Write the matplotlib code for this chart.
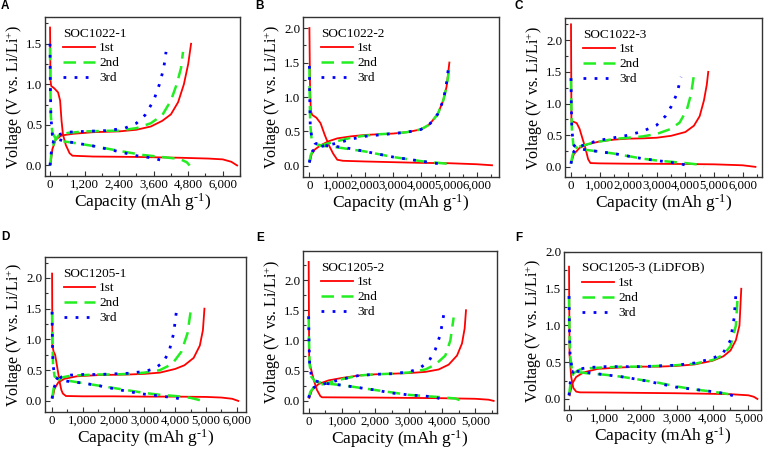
import numpy as np
import matplotlib.pyplot as plt
from matplotlib.ticker import FuncFormatter, MultipleLocator, AutoMinorLocator
from matplotlib.lines import Line2D

plt.rcParams['font.family'] = ['Liberation Serif', 'DejaVu Serif']
plt.rcParams['mathtext.fontset'] = 'custom'
plt.rcParams['mathtext.rm'] = 'Liberation Serif'
plt.rcParams['mathtext.it'] = 'Liberation Serif:italic'

# --- datos (capacidad mAh/g, voltaje V) ---
# Panel A  SOC1022-1
A_1_dis = [[0, 1.7], [15, 1.05], [40, 0.98], [150, 0.95], [280, 0.9], [350, 0.8], [400, 0.55], [450, 0.38],
           [550, 0.25], [680, 0.15], [780, 0.12], [1500, 0.11], [3000, 0.105], [4500, 0.095], [5500, 0.085],
           [6000, 0.075], [6300, 0.045], [6500, 0.0]]
A_1_chg = [[20, 0.02], [80, 0.2], [200, 0.32], [400, 0.37], [800, 0.39], [1500, 0.41], [2400, 0.42], [3000, 0.44],
           [3500, 0.48], [3900, 0.55], [4200, 0.63], [4450, 0.78], [4650, 1.0], [4800, 1.25], [4900, 1.5]]
A_2_dis = [[0, 1.45], [10, 1.0], [30, 0.6], [80, 0.4], [200, 0.33], [400, 0.3], [800, 0.28], [1500, 0.24],
           [2400, 0.18], [3200, 0.13], [4000, 0.1], [4500, 0.08], [4750, 0.04], [4850, 0.0]]
A_2_chg = [[0, 0.0], [50, 0.15], [150, 0.3], [300, 0.37], [600, 0.4], [1200, 0.42], [2400, 0.43], [3000, 0.46],
           [3500, 0.52], [3900, 0.62], [4200, 0.8], [4400, 1.0], [4550, 1.2], [4620, 1.4]]
A_3_dis = [[0, 1.5], [10, 1.0], [30, 0.6], [80, 0.38], [200, 0.33], [500, 0.3], [1000, 0.27], [1500, 0.24],
           [2400, 0.17], [3000, 0.12], [3600, 0.09], [3900, 0.06], [4100, 0.04]]
A_3_chg = [[0, 0.0], [40, 0.15], [120, 0.3], [300, 0.38], [600, 0.41], [1200, 0.42], [2000, 0.43], [2600, 0.46],
           [3000, 0.52], [3300, 0.62], [3600, 0.8], [3800, 1.0], [3950, 1.2], [4030, 1.4]]

# Panel B  SOC1022-2
B_1_dis = [[0, 2.0], [20, 1.2], [50, 0.8], [100, 0.74], [250, 0.7], [400, 0.62], [550, 0.45], [700, 0.3],
           [850, 0.18], [1000, 0.09], [1200, 0.075], [2000, 0.065], [3000, 0.055], [4000, 0.045], [5000, 0.04],
           [6000, 0.025], [6550, 0.01]]
B_1_chg = [[20, 0.06], [80, 0.17], [200, 0.24], [400, 0.3], [700, 0.36], [1000, 0.4], [1500, 0.43], [2000, 0.45],
           [2500, 0.46], [3000, 0.47], [3500, 0.49], [4000, 0.53], [4300, 0.6], [4600, 0.75], [4800, 0.95],
           [4920, 1.15], [5020, 1.5]]
B_2_dis = [[0, 1.45], [10, 1.0], [30, 0.6], [80, 0.38], [200, 0.32], [500, 0.29], [1000, 0.27], [1500, 0.24],
           [2000, 0.21], [2500, 0.17], [3000, 0.13], [3500, 0.1], [4000, 0.07], [4500, 0.05], [5000, 0.03],
           [5150, 0.02]]
B_2_chg = [[0, 0.05], [40, 0.15], [120, 0.22], [300, 0.28], [600, 0.32], [1000, 0.36], [1500, 0.41], [2000, 0.44],
           [2500, 0.46], [3000, 0.47], [3500, 0.49], [4000, 0.53], [4300, 0.6], [4600, 0.75], [4800, 0.95],
           [4920, 1.15], [5050, 1.5]]
B_3_dis = [[0, 1.45], [10, 1.0], [30, 0.6], [80, 0.42], [200, 0.33], [500, 0.3], [1000, 0.28], [1500, 0.25],
           [2000, 0.21], [2500, 0.17], [3000, 0.13], [3500, 0.1], [4000, 0.07], [4500, 0.04], [4900, 0.02]]
B_3_chg = [[0, 0.05], [40, 0.15], [120, 0.22], [300, 0.27], [600, 0.3], [1000, 0.33], [1500, 0.39], [2000, 0.43],
           [2500, 0.45], [3000, 0.47], [3500, 0.49], [4000, 0.53], [4300, 0.6], [4600, 0.75], [4800, 0.95],
           [4900, 1.15], [4980, 1.4]]

# Panel C  SOC1022-3
C_1_dis = [[0, 2.25], [15, 0.72], [100, 0.71], [200, 0.69], [300, 0.6], [400, 0.45], [500, 0.3], [600, 0.12],
           [680, 0.06], [1000, 0.055], [2000, 0.05], [3000, 0.048], [4000, 0.045], [5000, 0.04], [6000, 0.025],
           [6450, 0.0]]
C_1_chg = [[20, 0.08], [100, 0.2], [300, 0.3], [600, 0.36], [1000, 0.4], [1500, 0.43], [2000, 0.445],
           [2500, 0.45], [3000, 0.46], [3500, 0.49], [4000, 0.55], [4300, 0.65], [4500, 0.8], [4650, 1.05],
           [4750, 1.3], [4800, 1.5]]
C_2_dis = [[0, 1.4], [10, 1.0], [30, 0.6], [80, 0.35], [200, 0.3], [500, 0.27], [1000, 0.24], [1500, 0.21],
           [2000, 0.17], [2500, 0.13], [3000, 0.1], [3500, 0.08], [4000, 0.06], [4400, 0.04], [4650, 0.0]]
C_2_chg = [[0, 0.05], [50, 0.18], [150, 0.28], [300, 0.32], [600, 0.36], [1000, 0.4], [1500, 0.44], [2000, 0.46],
           [2500, 0.48], [3000, 0.52], [3500, 0.6], [3800, 0.7], [4050, 0.9], [4200, 1.15], [4300, 1.45]]
C_3_dis = [[0, 1.4], [10, 1.0], [30, 0.6], [80, 0.35], [200, 0.3], [500, 0.27], [1000, 0.24], [1500, 0.21],
           [2000, 0.17], [2500, 0.13], [3000, 0.1], [3500, 0.07], [3800, 0.05], [4000, 0.03]]
C_3_chg = [[0, 0.05], [50, 0.2], [150, 0.28], [300, 0.32], [600, 0.37], [1000, 0.42], [1500, 0.46], [2000, 0.5],
           [2500, 0.56], [3000, 0.66], [3300, 0.8], [3500, 0.95], [3700, 1.15], [3850, 1.42]]

# Panel D  SOC1205-1
D_1_dis = [[0, 2.07], [10, 0.9], [50, 0.8], [100, 0.75], [150, 0.6], [200, 0.45], [250, 0.3], [300, 0.18],
           [350, 0.12], [450, 0.08], [1000, 0.075], [2000, 0.075], [3000, 0.07], [4000, 0.07], [5000, 0.065],
           [5500, 0.055], [5850, 0.035], [6050, 0.0]]
D_1_chg = [[20, 0.05], [80, 0.2], [200, 0.3], [400, 0.36], [800, 0.4], [1500, 0.42], [2500, 0.43], [3000, 0.44],
           [3500, 0.46], [4000, 0.52], [4300, 0.58], [4600, 0.7], [4800, 0.9], [4900, 1.15], [4950, 1.5]]
D_2_dis = [[0, 1.45], [10, 1.0], [30, 0.6], [80, 0.4], [200, 0.36], [500, 0.33], [1000, 0.29], [1500, 0.25],
           [2000, 0.21], [2500, 0.17], [3000, 0.13], [3500, 0.1], [4000, 0.08], [4500, 0.05], [4900, 0.0]]
D_2_chg = [[0, 0.04], [50, 0.2], [150, 0.32], [300, 0.38], [600, 0.41], [1000, 0.42], [1500, 0.43], [2000, 0.43],
           [2500, 0.44], [3000, 0.46], [3500, 0.5], [3900, 0.6], [4200, 0.8], [4400, 1.1], [4500, 1.45]]
D_3_dis = [[0, 1.45], [10, 1.0], [30, 0.6], [80, 0.4], [200, 0.35], [500, 0.32], [1000, 0.29], [1500, 0.25],
           [2000, 0.2], [2500, 0.15], [3000, 0.11], [3500, 0.08], [4000, 0.05], [4300, 0.02]]
D_3_chg = [[0, 0.04], [50, 0.2], [150, 0.32], [300, 0.39], [600, 0.42], [1000, 0.43], [1500, 0.43], [2000, 0.44],
           [2500, 0.45], [3000, 0.48], [3300, 0.52], [3600, 0.62], [3800, 0.8], [3950, 1.1], [4050, 1.5]]

# Panel E  SOC1205-2
E_1_dis = [[0, 2.3], [15, 0.7], [60, 0.55], [150, 0.35], [250, 0.18], [350, 0.08], [400, 0.06], [1000, 0.058],
           [2000, 0.055], [3000, 0.05], [4000, 0.045], [5000, 0.035], [5400, 0.02], [5550, 0.0]]
E_1_chg = [[20, 0.05], [100, 0.18], [300, 0.28], [600, 0.34], [1000, 0.38], [1500, 0.42], [2000, 0.44],
           [2500, 0.45], [3000, 0.46], [3500, 0.48], [3900, 0.52], [4200, 0.6], [4450, 0.75], [4600, 0.95],
           [4680, 1.2], [4720, 1.5]]
E_2_dis = [[0, 1.4], [10, 1.0], [30, 0.6], [80, 0.4], [200, 0.32], [500, 0.29], [1000, 0.26], [1500, 0.22],
           [2000, 0.18], [2500, 0.14], [3000, 0.1], [3500, 0.08], [4000, 0.06], [4400, 0.04], [4600, 0.0]]
E_2_chg = [[0, 0.05], [50, 0.15], [150, 0.22], [300, 0.26], [600, 0.3], [1000, 0.36], [1500, 0.42], [2000, 0.44],
           [2500, 0.45], [3000, 0.47], [3500, 0.52], [3800, 0.6], [4100, 0.75], [4250, 1.0], [4350, 1.38]]
E_3_dis = [[0, 1.4], [10, 1.0], [30, 0.6], [80, 0.42], [200, 0.33], [500, 0.29], [1000, 0.26], [1500, 0.22],
           [2000, 0.18], [2500, 0.13], [3000, 0.1], [3500, 0.08], [3800, 0.06], [4050, 0.02]]
E_3_chg = [[0, 0.05], [50, 0.15], [150, 0.22], [300, 0.26], [600, 0.3], [1000, 0.36], [1500, 0.42], [2000, 0.44],
           [2500, 0.45], [3000, 0.48], [3300, 0.53], [3600, 0.65], [3800, 0.85], [3950, 1.1], [4050, 1.42]]

# Panel F  SOC1205-3 (LiDFOB)
F_1_dis = [[0, 1.8], [15, 0.6], [60, 0.3], [120, 0.15], [200, 0.1], [300, 0.09], [1000, 0.088], [2000, 0.083],
           [3000, 0.078], [4000, 0.07], [4500, 0.065], [5000, 0.05], [5150, 0.03], [5250, 0.0]]
F_1_chg = [[20, 0.05], [80, 0.2], [200, 0.3], [400, 0.36], [800, 0.41], [1500, 0.43], [2000, 0.44], [2500, 0.44],
           [3000, 0.45], [3500, 0.47], [4000, 0.52], [4300, 0.58], [4500, 0.66], [4650, 0.8], [4750, 1.0],
           [4800, 1.5]]
F_2_dis = [[0, 1.4], [10, 1.0], [30, 0.6], [80, 0.4], [200, 0.37], [500, 0.35], [1000, 0.33], [1500, 0.3],
           [2000, 0.26], [2500, 0.22], [3000, 0.17], [3500, 0.13], [4000, 0.1], [4400, 0.07], [4650, 0.04]]
F_2_chg = [[0, 0.05], [40, 0.2], [120, 0.35], [300, 0.4], [600, 0.42], [1000, 0.43], [1500, 0.44], [2000, 0.44],
           [2500, 0.45], [3000, 0.46], [3500, 0.48], [4000, 0.53], [4300, 0.6], [4500, 0.72], [4650, 1.0],
           [4700, 1.4]]
F_3_dis = [[0, 1.4], [10, 1.0], [30, 0.6], [80, 0.42], [200, 0.38], [500, 0.36], [1000, 0.33], [1500, 0.3],
           [2000, 0.26], [2500, 0.21], [3000, 0.16], [3500, 0.13], [4000, 0.1], [4400, 0.07], [4600, 0.04]]
F_3_chg = [[0, 0.05], [40, 0.25], [120, 0.38], [300, 0.41], [600, 0.43], [1000, 0.44], [1500, 0.44], [2000, 0.44],
           [2500, 0.45], [3000, 0.46], [3500, 0.49], [4000, 0.55], [4300, 0.63], [4500, 0.8], [4600, 1.1],
           [4650, 1.42]]

ciclos = ['1st', '2nd', '3rd']

# letra, titulo, marco (px: izq, arriba, der, abajo), centro letra, xlim, ylim, paso x, curvas
paneles = [
    ('A', 'SOC1022-1', (45, 17, 240, 176), (5, 6), (-175, 6600), (-0.13, 1.83), 1200,
     [(A_1_dis, A_1_chg), (A_2_dis, A_2_chg), (A_3_dis, A_3_chg)]),
    ('B', 'SOC1022-2', (303, 17, 499, 177), (260, 6), (-230, 6800), (-0.16, 2.16), 1000,
     [(B_1_dis, B_1_chg), (B_2_dis, B_2_chg), (B_3_dis, B_3_chg)]),
    ('C', 'SOC1022-3', (565, 18, 762, 177), (519, 6), (-210, 6680), (-0.16, 2.35), 1000,
     [(C_1_dis, C_1_chg), (C_2_dis, C_2_chg), (C_3_dis, C_3_chg)]),
    ('D', 'SOC1205-1', (45, 257, 246, 412), (5, 237), (-230, 6300), (-0.18, 2.34), 1000,
     [(D_1_dis, D_1_chg), (D_2_dis, D_2_chg), (D_3_dis, D_3_chg)]),
    ('E', 'SOC1205-2', (303, 251, 497, 413), (260, 238), (-170, 5650), (-0.2, 2.48), 1000,
     [(E_1_dis, E_1_chg), (E_2_dis, E_2_chg), (E_3_dis, E_3_chg)]),
    ('F', 'SOC1205-3 (LiDFOB)', (564, 252, 761, 410), (519, 238), (-140, 5350), (-0.15, 2.0), 1000,
     [(F_1_dis, F_1_chg), (F_2_dis, F_2_chg), (F_3_dis, F_3_chg)]),
]

estilos = [
    dict(color='#ff0000', lw=1.3, ls='-'),
    dict(color='#22ee22', lw=1.8, ls=(0, (5, 3))),
    dict(color='#0000ff', lw=2.0, ls=(0, (1, 3))),
]

W, H = 765, 453
fig = plt.figure(figsize=(W / 100, H / 100), dpi=100)

for letra, titulo, (x0, y0, x1, y1), (lx, ly), xlim, ylim, paso, curvas in paneles:
    ax = fig.add_axes([x0 / W, 1 - y1 / H, (x1 - x0) / W, (y1 - y0) / H])
    for (dis, chg), st in zip(curvas, estilos):
        dis = np.array(dis)
        chg = np.array(chg)
        ax.plot(dis[:, 0], dis[:, 1], **st)
        ax.plot(chg[:, 0], chg[:, 1], **st)
    ax.set_xlim(*xlim)
    ax.set_ylim(*ylim)
    ax.xaxis.set_major_locator(MultipleLocator(paso))
    ax.xaxis.set_minor_locator(AutoMinorLocator(2))
    ax.yaxis.set_major_locator(MultipleLocator(0.5))
    ax.yaxis.set_minor_locator(AutoMinorLocator(2))
    ax.xaxis.set_major_formatter(FuncFormatter(lambda v, p: f'{v:,.0f}'))
    ax.yaxis.set_major_formatter(FuncFormatter(lambda v, p: f'{v:.1f}'))
    ax.tick_params(which='both', direction='in', labelsize=9.3, pad=2, color='#333333')
    ax.tick_params(which='major', length=3.5, width=0.8)
    ax.tick_params(which='minor', length=2, width=0.8)
    for s in ax.spines.values():
        s.set_linewidth(1.0)
        s.set_color('#333333')
    ax.set_xlabel(r'Capacity (mAh g$^{\text{-1}}$)', fontsize=12.5, labelpad=0.5)
    ax.set_ylabel('Voltage (V vs. Li/Li$^{+}$)', fontsize=11.5, labelpad=1)
    handles = [Line2D([], [], **st) for st in estilos]
    ax.legend(handles, ciclos, title=titulo, loc='upper left', bbox_to_anchor=(0.04, 1.0),
              frameon=False, fontsize=9.5, title_fontsize=9.5, handlelength=2.4,
              handletextpad=0.3, labelspacing=0.2, borderpad=0.3, alignment='left')
    fig.text(lx / W, 1 - ly / H, letra, fontsize=8.5, fontweight='bold',
             family='Liberation Sans', ha='center', va='center')

fig.savefig('out.png', dpi=100)
